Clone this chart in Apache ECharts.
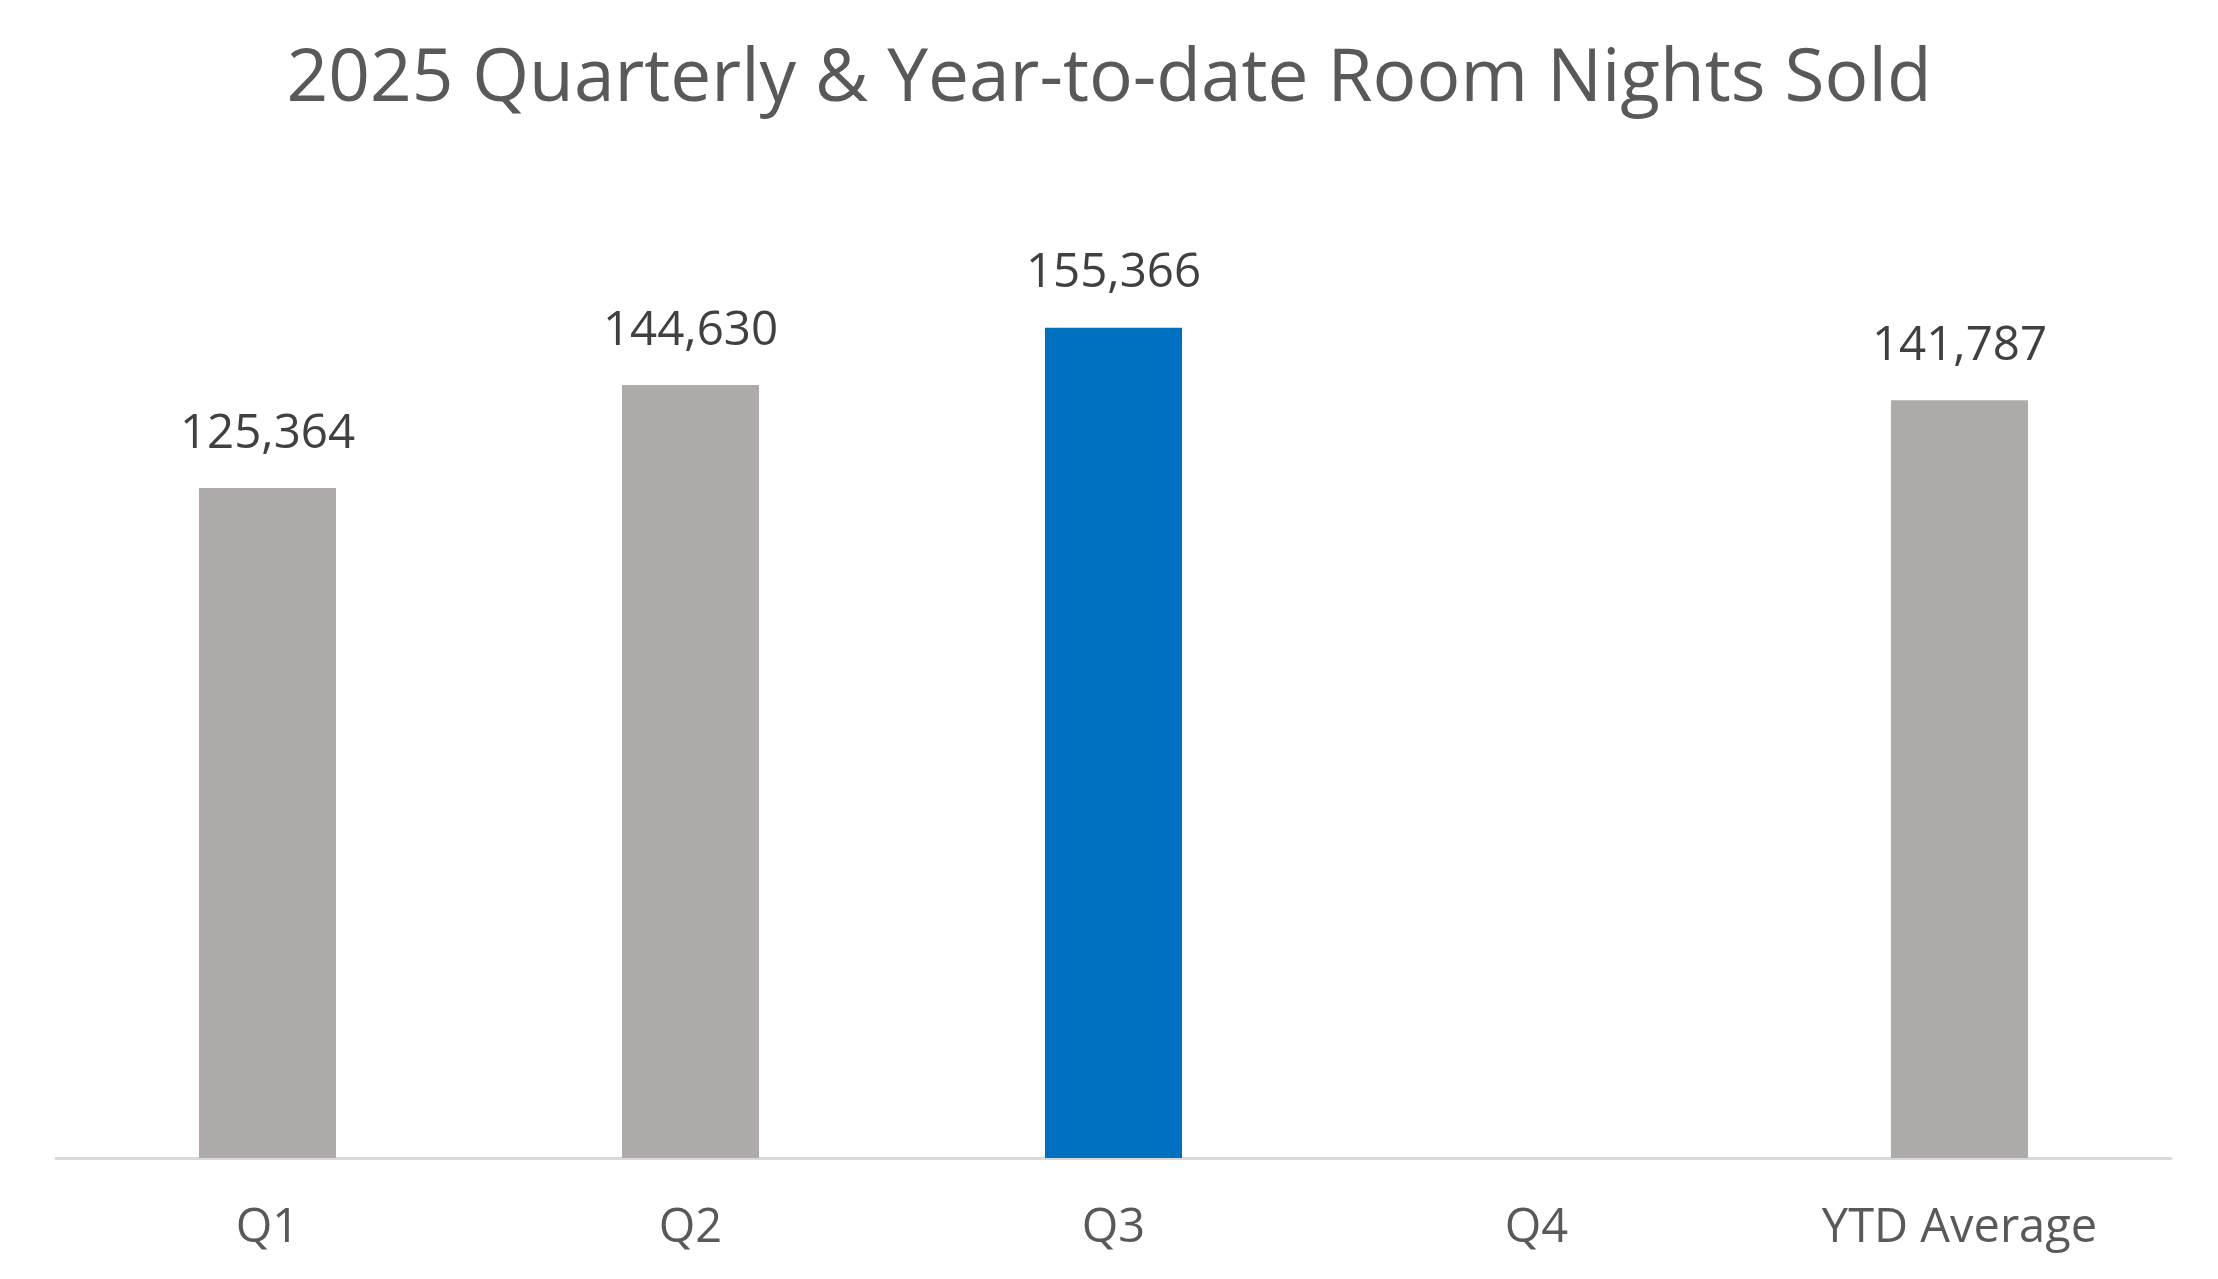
<!DOCTYPE html>
<html>
<head>
<meta charset="utf-8">
<script src="https://cdn.jsdelivr.net/npm/echarts@6/dist/echarts.min.js"></script>
<style>html,body{margin:0;padding:0;background:#fff;}#c{width:2218px;height:1279px;}</style>
</head>
<body>
<div id="c"></div>
<script>
const titleText = '2025 Quarterly & Year-to-date Room Nights Sold';
const categories = ['Q1', 'Q2', 'Q3', 'Q4', 'YTD Average'];
const values = [125364, 144630, 155366, null, 141787];
const barColors = ['#AEAAAA', '#AEAAAA', '#0070C0', '#AEAAAA', '#AEAAAA'];

const chart = echarts.init(document.getElementById('c'));
chart.setOption({
  backgroundColor: '#ffffff',
  animation: false,
  title: {
    text: titleText,
    left: 'center',
    top: 39,
    textStyle: { fontFamily: 'Open Sans', fontSize: 73, fontWeight: 'normal', color: '#595959' }
  },
  grid: { left: 56, right: 47, top: 196, bottom: 121 },
  xAxis: {
    type: 'category',
    data: categories,
    axisLine: { lineStyle: { color: '#D9D9D9', width: 3 } },
    axisTick: { show: false },
    axisLabel: { margin: 47, fontFamily: 'Open Sans', fontSize: 47, color: '#595959' }
  },
  yAxis: {
    type: 'value', min: 0, max: 180000, interval: 20000,
    show: false, splitLine: { show: false }
  },
  series: [{
    type: 'bar',
    barWidth: '32.4%',
    data: values.map((v, i) => ({ value: v, itemStyle: { color: barColors[i] } })),
    label: {
      show: true, position: 'top', distance: 30,
      fontFamily: 'Open Sans', fontSize: 47.5, color: '#404040',
      formatter: p => p.value == null ? '' : Number(p.value).toLocaleString('en-US')
    }
  }]
});
</script>
</body>
</html>
